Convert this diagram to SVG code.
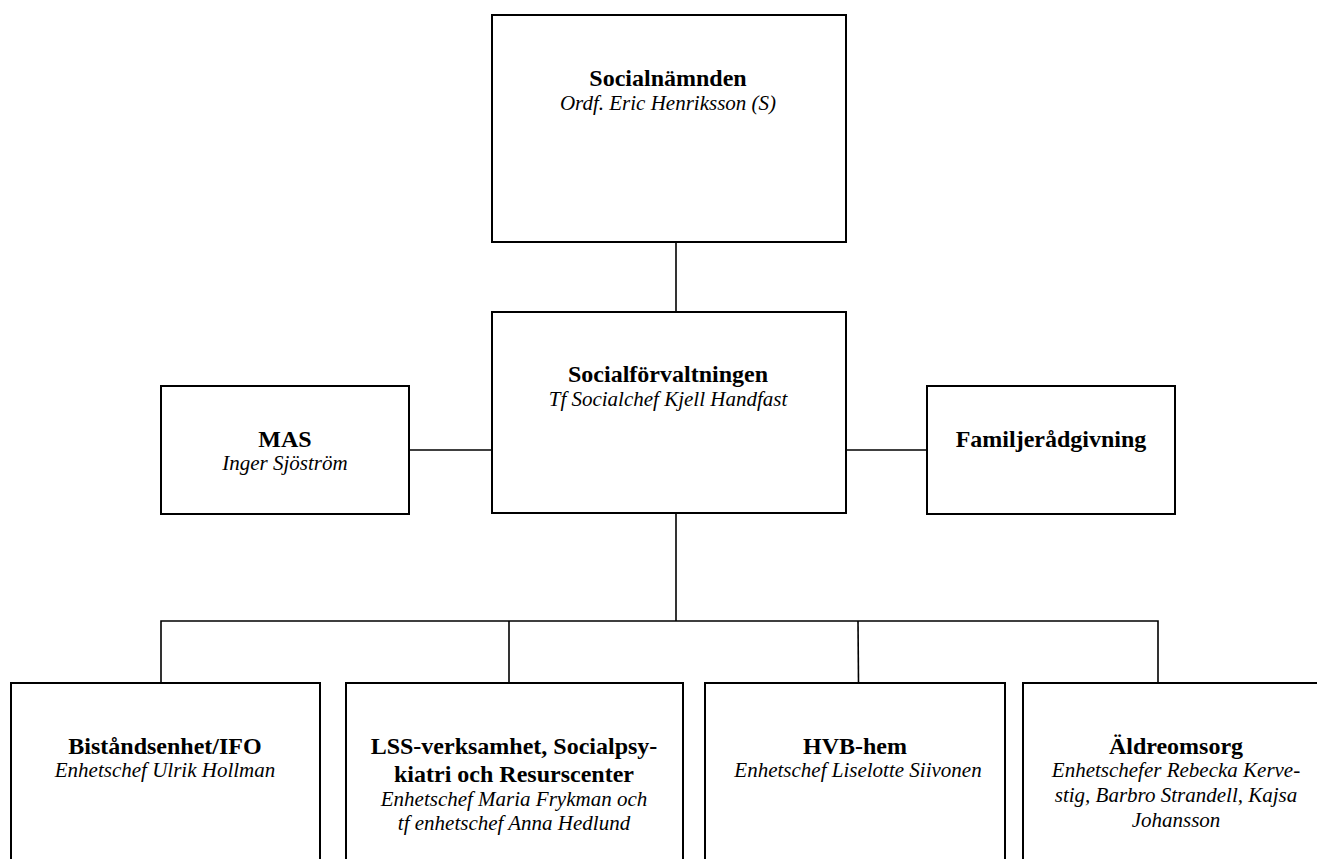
<svg xmlns="http://www.w3.org/2000/svg" width="1317" height="859" viewBox="0 0 1317 859">
<style>
.box{fill:#fff;stroke:#000;stroke-width:2}
.ln{stroke:#000;stroke-width:1.6;fill:none}
.b{font-family:"Liberation Serif","Times New Roman",serif;font-weight:bold;font-size:24px;text-anchor:middle;fill:#000}
.i{font-family:"Liberation Serif","Times New Roman",serif;font-style:italic;font-size:21px;text-anchor:middle;fill:#000}
</style>
<rect width="1317" height="859" fill="#fff"/>
<g id="connectors">
<line class="ln" x1="676" y1="242" x2="676" y2="312"/>
<line class="ln" x1="409" y1="450" x2="492" y2="450"/>
<line class="ln" x1="846" y1="450" x2="927" y2="450"/>
<line class="ln" x1="676" y1="513" x2="676" y2="621"/>
<polyline class="ln" points="161,683 161,621 1158,621 1158,683"/>
<line class="ln" x1="509" y1="621" x2="509" y2="683"/>
<line class="ln" x1="858" y1="621" x2="858.5" y2="683"/>
</g>
<g id="socialnamnden">
<rect class="box" x="492" y="15" width="354" height="227"/>
<text class="b" x="668" y="86">Socialnämnden</text>
<text class="i" x="668" y="110">Ordf. Eric Henriksson (S)</text>
</g>
<g id="socialforvaltningen">
<rect class="box" x="492" y="312" width="354" height="201"/>
<text class="b" x="668" y="382">Socialförvaltningen</text>
<text class="i" x="668" y="406">Tf Socialchef Kjell Handfast</text>
</g>
<g id="mas">
<rect class="box" x="161" y="386" width="248" height="128"/>
<text class="b" x="285" y="447">MAS</text>
<text class="i" x="285" y="470">Inger Sjöström</text>
</g>
<g id="familjeradgivning">
<rect class="box" x="927" y="386" width="248" height="128"/>
<text class="b" x="1051" y="447">Familjerådgivning</text>
</g>
<g id="bistandsenhet">
<rect class="box" x="11" y="683" width="309" height="200"/>
<text class="b" x="165" y="754">Biståndsenhet/IFO</text>
<text class="i" x="165" y="777">Enhetschef Ulrik Hollman</text>
</g>
<g id="lss">
<rect class="box" x="346" y="683" width="337" height="200"/>
<text class="b" x="514" y="754">LSS-verksamhet, Socialpsy-</text>
<text class="b" x="514" y="782">kiatri och Resurscenter</text>
<text class="i" x="514" y="806">Enhetschef Maria Frykman och</text>
<text class="i" x="514" y="830">tf enhetschef Anna Hedlund</text>
</g>
<g id="hvb">
<rect class="box" x="705" y="683" width="300" height="200"/>
<text class="b" x="855" y="754">HVB-hem</text>
<text class="i" x="858" y="777">Enhetschef Liselotte Siivonen</text>
</g>
<g id="aldreomsorg">
<rect class="box" x="1023" y="683" width="310" height="200"/>
<text class="b" x="1176" y="754">Äldreomsorg</text>
<text class="i" x="1176" y="777">Enhetschefer Rebecka Kerve-</text>
<text class="i" x="1176" y="802">stig, Barbro Strandell, Kajsa</text>
<text class="i" x="1176" y="827">Johansson</text>
</g>
</svg>
